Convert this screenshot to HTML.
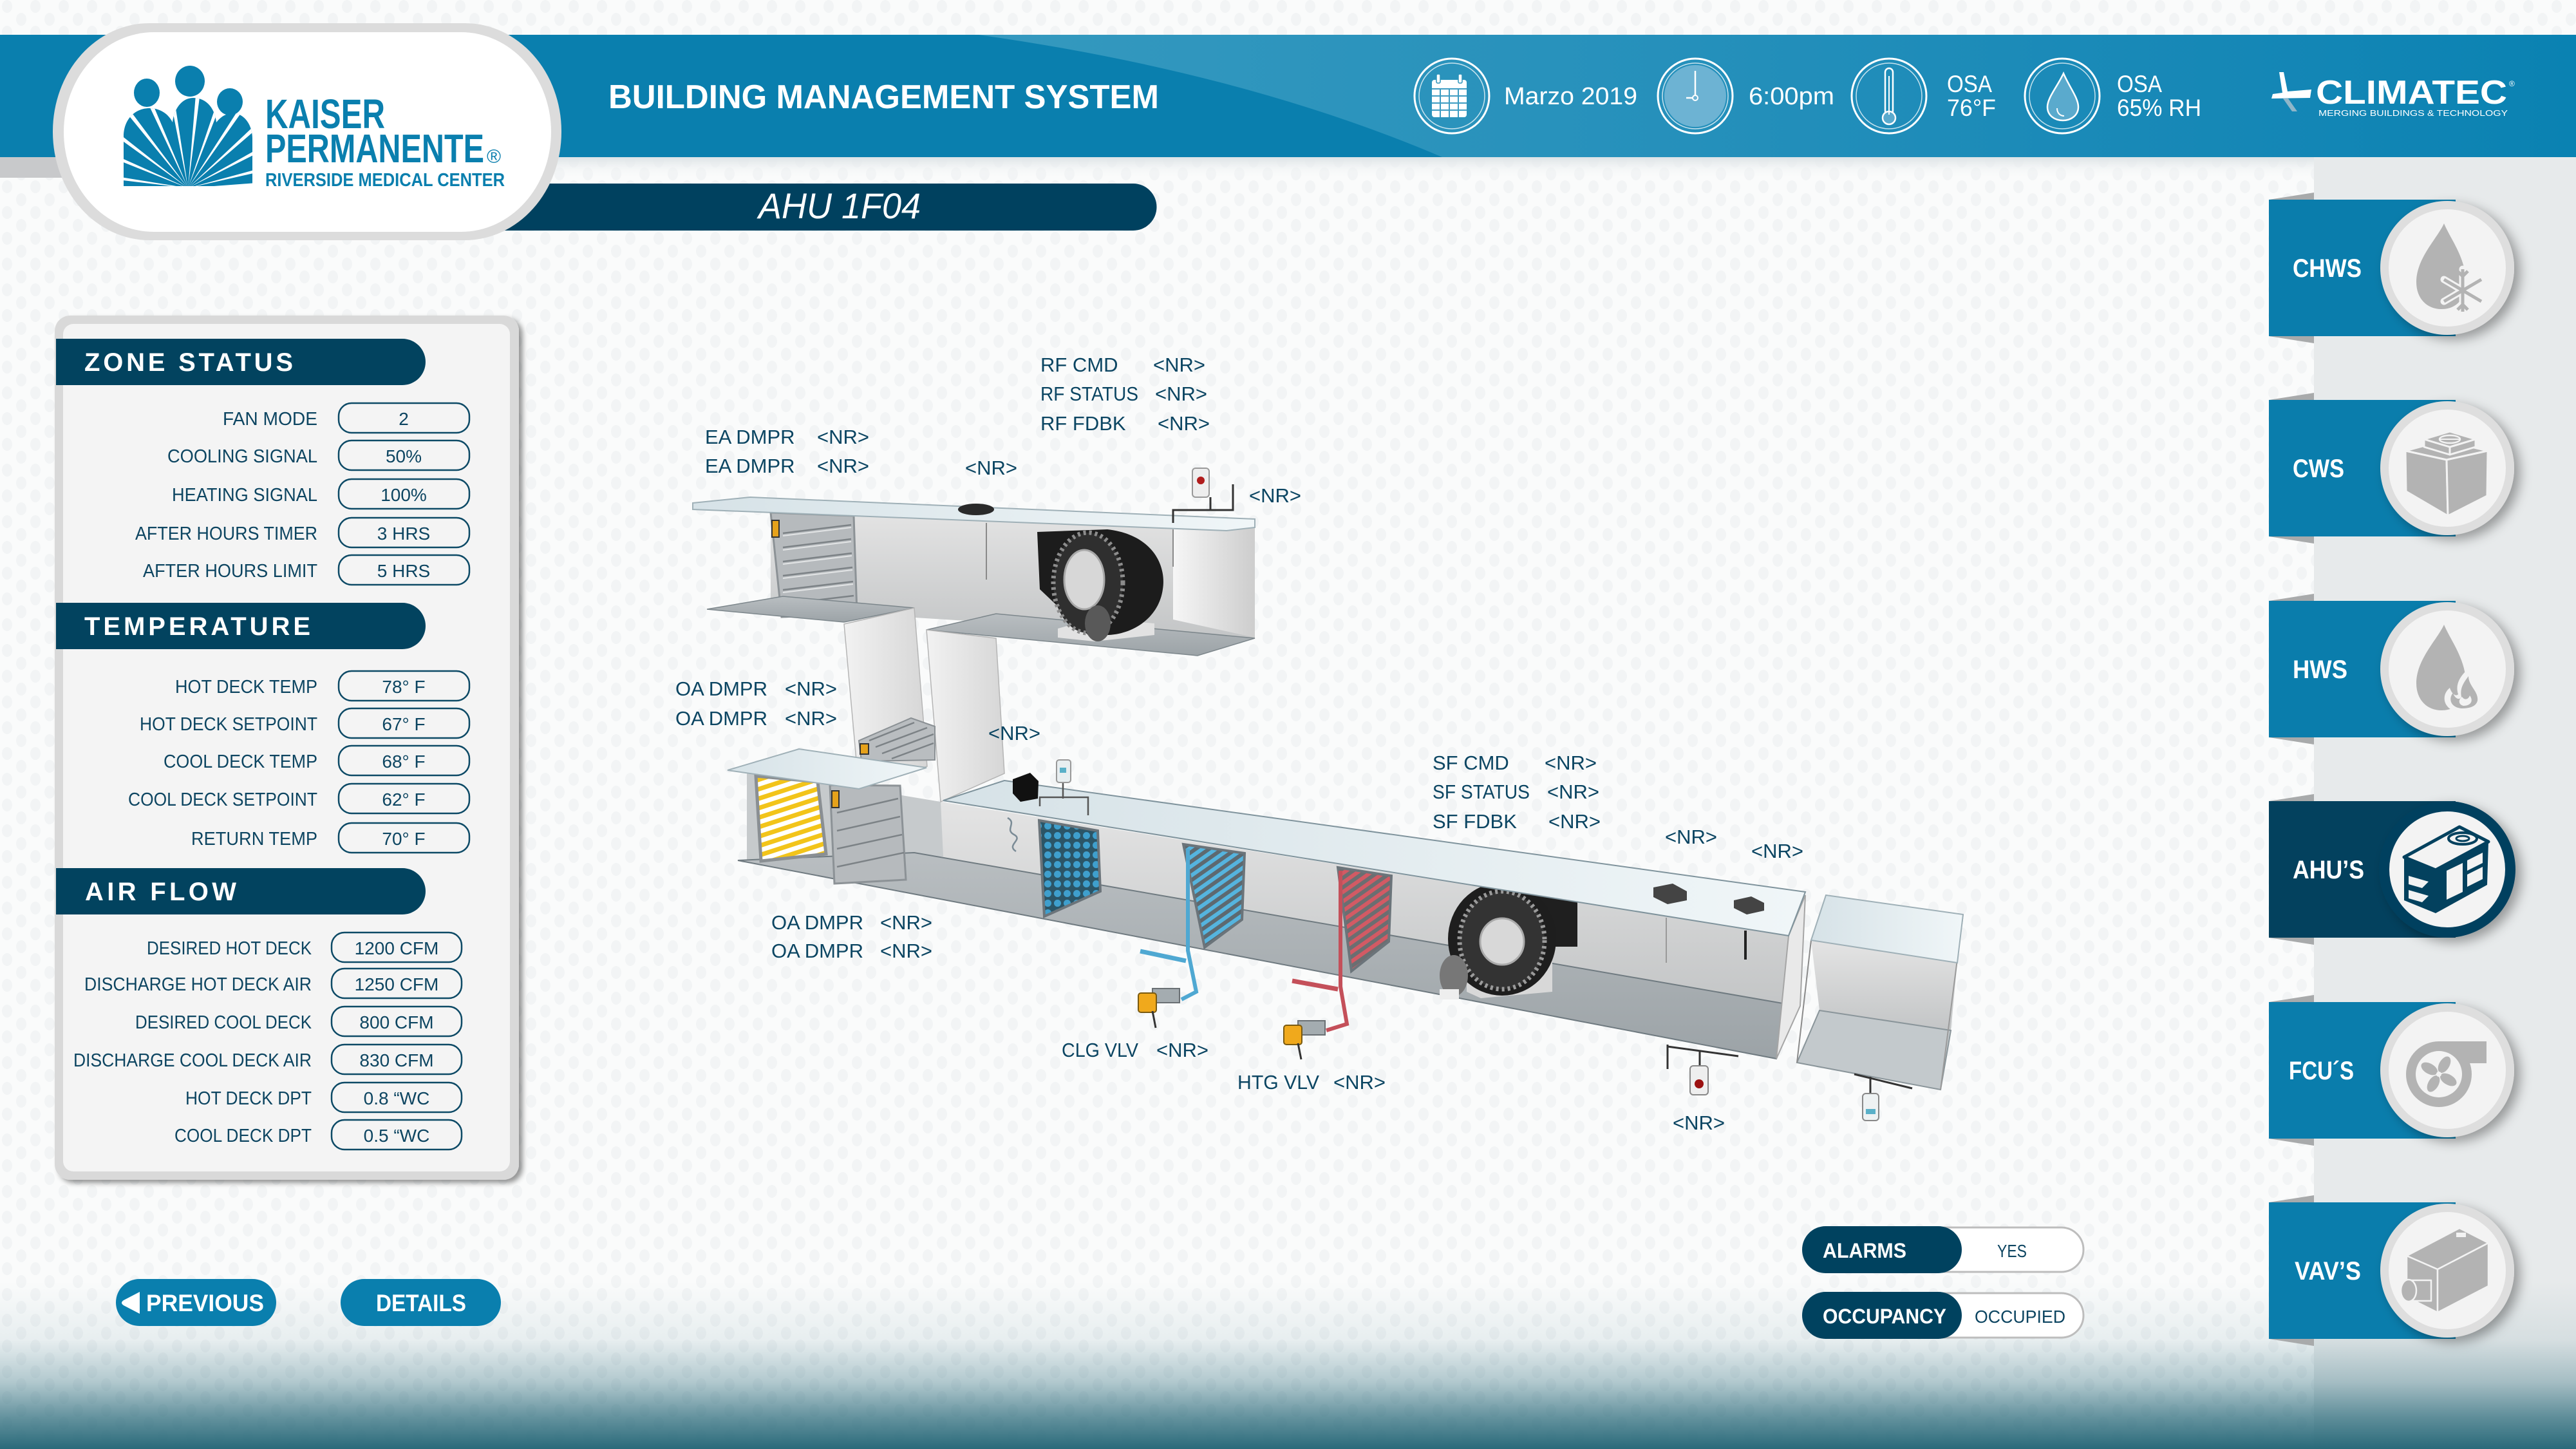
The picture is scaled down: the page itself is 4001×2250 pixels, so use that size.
<!DOCTYPE html>
<html><head><meta charset="utf-8">
<style>
html,body{margin:0;padding:0;background:#fafbfb;width:4001px;height:2250px;overflow:hidden;}
svg{display:block;}
text{font-family:"Liberation Sans",Arial,sans-serif;}
</style></head><body>
<svg width="4001" height="2250" viewBox="0 0 4001 2250" xmlns="http://www.w3.org/2000/svg">
<defs>
 <linearGradient id="btm" x1="0" y1="1990" x2="0" y2="2250" gradientUnits="userSpaceOnUse">
  <stop offset="0" stop-color="#2a6a7a" stop-opacity="0"/>
  <stop offset="0.35" stop-color="#2a6a7a" stop-opacity="0.09"/>
  <stop offset="0.6" stop-color="#2a6a7a" stop-opacity="0.35"/>
  <stop offset="0.81" stop-color="#2a6a7a" stop-opacity="0.72"/>
  <stop offset="1" stop-color="#2a6a7a" stop-opacity="1"/>
 </linearGradient>
 <linearGradient id="bandL" x1="1500" y1="0" x2="4001" y2="0" gradientUnits="userSpaceOnUse">
  <stop offset="0" stop-color="#3599bf"/>
  <stop offset="0.45" stop-color="#2590bb"/>
  <stop offset="0.8" stop-color="#1587b6"/>
  <stop offset="1" stop-color="#0a82b2"/>
 </linearGradient>
 <linearGradient id="under" x1="0" y1="0" x2="0" y2="1">
  <stop offset="0" stop-color="#dde3e6"/>
  <stop offset="1" stop-color="#fafbfb" stop-opacity="0"/>
 </linearGradient>
 <linearGradient id="wall" x1="0" y1="0" x2="0" y2="1">
  <stop offset="0" stop-color="#e4e4e4"/>
  <stop offset="1" stop-color="#c3c5c6"/>
 </linearGradient>
 <linearGradient id="wallH" x1="0" y1="0" x2="1" y2="0">
  <stop offset="0" stop-color="#f6f6f6"/>
  <stop offset="1" stop-color="#cdcdcd"/>
 </linearGradient>
 <linearGradient id="wallH2" x1="0" y1="0" x2="1" y2="0">
  <stop offset="0" stop-color="#f2f2f2"/>
  <stop offset="1" stop-color="#d6d6d6"/>
 </linearGradient>
 <linearGradient id="floor" x1="0" y1="0" x2="0" y2="1">
  <stop offset="0" stop-color="#b9bec1"/>
  <stop offset="1" stop-color="#9ca3a7"/>
 </linearGradient>
 <linearGradient id="lid" x1="0" y1="0" x2="1" y2="0">
  <stop offset="0" stop-color="#d6e2e7"/>
  <stop offset="1" stop-color="#f0f6f8"/>
 </linearGradient>
 <pattern id="dots" width="44" height="40" patternUnits="userSpaceOnUse">
  <ellipse cx="11" cy="10" rx="8" ry="10" fill="#eef1f2"/>
  <ellipse cx="33" cy="30" rx="8" ry="10" fill="#eef1f2"/>
 </pattern>
 <pattern id="yel" width="14" height="14" patternUnits="userSpaceOnUse" patternTransform="rotate(-18)">
  <rect width="14" height="14" fill="#ffffff"/><rect width="14" height="7" fill="#f2c41a"/>
 </pattern>
 <pattern id="filt" width="15" height="15" patternUnits="userSpaceOnUse">
  <rect width="15" height="15" fill="#2b5567"/><circle cx="7.5" cy="7.5" r="5.5" fill="#3f9fcd"/>
 </pattern>
 <pattern id="cool" width="12" height="12" patternUnits="userSpaceOnUse" patternTransform="rotate(-35)">
  <rect width="12" height="12" fill="#5d6970"/><rect width="12" height="6" fill="#55b4de"/>
 </pattern>
 <pattern id="heat" width="12" height="12" patternUnits="userSpaceOnUse" patternTransform="rotate(-35)">
  <rect width="12" height="12" fill="#6b6e71"/><rect width="12" height="6" fill="#d25a64"/>
 </pattern>
 <clipPath id="bodyClip">
  <path d="M192,289 L192,212 C192,185 210,168 232,168 C250,168 262,178 268,190 C270,170 282,152 300,152 C322,152 334,170 336,190 C344,180 352,176 362,176 C380,176 392,195 392,215 L392,289 Z"/>
 </clipPath>
 <filter id="sh" x="-30%" y="-30%" width="170%" height="170%">
  <feDropShadow dx="9" dy="7" stdDeviation="9" flood-color="#000" flood-opacity="0.35"/>
 </filter>
 <filter id="shp" x="-10%" y="-10%" width="120%" height="120%">
  <feDropShadow dx="6" dy="5" stdDeviation="4" flood-color="#000" flood-opacity="0.4"/>
 </filter>
</defs>

<!-- background -->
<rect x="0" y="0" width="4001" height="2250" fill="#fafbfb"/>
<rect x="0" y="0" width="4001" height="2250" fill="url(#dots)" opacity="0.7"/>
<rect x="0" y="244" width="3594" height="34" fill="url(#under)"/>
<rect x="0" y="244" width="100" height="32" fill="#c8c9cb"/>
<rect x="3594" y="244" width="407" height="2006" fill="#e7eaeb"/>
<rect x="0" y="1990" width="4001" height="260" fill="url(#btm)"/>

<!-- header band -->
<rect x="0" y="54" width="4001" height="190" fill="#0a7fae"/>
<path d="M1520,54 Q1930,112 2240,244 L4001,244 L4001,54 Z" fill="url(#bandL)"/>

<text x="945" y="168" font-size="52" font-weight="bold" fill="#ffffff" textLength="855" lengthAdjust="spacingAndGlyphs">BUILDING MANAGEMENT SYSTEM</text>

<!-- header icons -->
<g fill="none" stroke="#ffffff">
 <circle cx="2255" cy="149" r="58" stroke-width="3"/>
 <circle cx="2255" cy="149" r="51" stroke-width="1.5" stroke-opacity="0.75"/>
 <circle cx="2633" cy="149" r="58" stroke-width="3"/>
 <circle cx="2633" cy="149" r="51" stroke-width="1.5" stroke-opacity="0.75"/>
 <circle cx="2934" cy="149" r="58" stroke-width="3"/>
 <circle cx="2934" cy="149" r="51" stroke-width="1.5" stroke-opacity="0.75"/>
 <circle cx="3203" cy="149" r="58" stroke-width="3"/>
 <circle cx="3203" cy="149" r="51" stroke-width="1.5" stroke-opacity="0.75"/>
</g>
<circle cx="2633" cy="149" r="48" fill="#6db3d3"/>
<line x1="2633" y1="110" x2="2633" y2="148" stroke="#fff" stroke-width="2.5"/>
<circle cx="2633" cy="152" r="4" fill="none" stroke="#fff" stroke-width="2"/>
<line x1="2619" y1="152" x2="2629" y2="152" stroke="#fff" stroke-width="2.5"/>
<!-- calendar -->
<rect x="2224" y="124" width="54" height="58" rx="4" fill="#ffffff"/>
<rect x="2231" y="115" width="6" height="14" rx="2" fill="#ffffff" stroke="#2d93ba" stroke-width="1.5"/>
<rect x="2265" y="115" width="6" height="14" rx="2" fill="#ffffff" stroke="#2d93ba" stroke-width="1.5"/>
<g stroke="#3d9cc2" stroke-width="2">
 <line x1="2224" y1="138" x2="2278" y2="138"/><line x1="2224" y1="149" x2="2278" y2="149"/>
 <line x1="2224" y1="160" x2="2278" y2="160"/><line x1="2224" y1="171" x2="2278" y2="171"/>
 <line x1="2237" y1="138" x2="2237" y2="182"/><line x1="2251" y1="138" x2="2251" y2="182"/>
 <line x1="2265" y1="138" x2="2265" y2="182"/>
</g>
<!-- thermometer -->
<rect x="2928" y="106" width="12" height="72" rx="6" fill="none" stroke="#fff" stroke-width="2.5"/>
<circle cx="2934" cy="183" r="10" fill="#5aaacd" stroke="#fff" stroke-width="2.5"/>
<line x1="2934" y1="118" x2="2934" y2="178" stroke="#fff" stroke-width="2"/>
<!-- droplet -->
<path d="M3205,114 C3195,135 3180,152 3180,166 C3180,180 3192,187 3204,187 C3217,187 3228,179 3228,166 C3228,152 3214,135 3205,114 Z" fill="#5aaacd" stroke="#fff" stroke-width="2.5"/>
<path d="M3195,168 C3195,176 3200,180 3206,180" fill="none" stroke="#fff" stroke-width="2"/>

<g fill="#ffffff" font-size="38">
 <text x="2336" y="162" textLength="207" lengthAdjust="spacingAndGlyphs">Marzo 2019</text>
 <text x="2716" y="162" textLength="133" lengthAdjust="spacingAndGlyphs">6:00pm</text>
 <text x="3024" y="143" font-size="37" textLength="70" lengthAdjust="spacingAndGlyphs">OSA</text>
 <text x="3024" y="180" font-size="37" textLength="76" lengthAdjust="spacingAndGlyphs">76°F</text>
 <text x="3288" y="143" font-size="37" textLength="70" lengthAdjust="spacingAndGlyphs">OSA</text>
 <text x="3288" y="180" font-size="37" textLength="131" lengthAdjust="spacingAndGlyphs">65% RH</text>
</g>
<!-- climatec -->
<polygon points="3540,112 3547,112 3553,142 3590,139 3588,152 3528,153 3530,146 3545,144" fill="#ffffff"/>
<polygon points="3546,153 3554,153 3568,173 3560,173" fill="#8fb6c9"/>
<text x="3597" y="161" font-size="52" font-weight="bold" fill="#ffffff" textLength="297" lengthAdjust="spacingAndGlyphs">CLIMATEC</text>
<text x="3897" y="134" font-size="12" fill="#ffffff">®</text>
<text x="3601" y="180" font-size="13" fill="#ffffff" textLength="294" lengthAdjust="spacingAndGlyphs">MERGING BUILDINGS &amp; TECHNOLOGY</text>

<!-- AHU bar -->
<path d="M700,285 H1760 A36.5,36.5 0 0 1 1760,358 H700 Z" fill="#00415f"/>
<text x="1304" y="339" font-size="56" font-style="italic" fill="#ffffff" text-anchor="middle" textLength="252" lengthAdjust="spacingAndGlyphs">AHU 1F04</text>

<!-- logo -->
<rect x="82" y="36" width="790" height="337" rx="150" ry="168" fill="#dcdcdc"/>
<rect x="99" y="50" width="757" height="310" rx="140" ry="155" fill="#ffffff"/>
<g fill="#0a7fae">
 <ellipse cx="228" cy="144" rx="20" ry="22"/>
 <ellipse cx="295" cy="126" rx="23" ry="24"/>
 <ellipse cx="357" cy="158" rx="20" ry="21"/>
 <path d="M192,289 L192,212 C192,185 210,168 232,168 C250,168 262,178 268,190 C270,170 282,152 300,152 C322,152 334,170 336,190 C344,180 352,176 362,176 C380,176 392,195 392,215 L392,289 Z"/>
</g>
<g fill="#ffffff" clip-path="url(#bodyClip)">
 <polygon points="292,292 520,287 520,297" transform="rotate(-172 292 292)"/>
 <polygon points="292,292 520,287 520,297" transform="rotate(-157 292 292)"/>
 <polygon points="292,292 520,287 520,297" transform="rotate(-143 292 292)"/>
 <polygon points="292,292 520,287 520,297" transform="rotate(-128 292 292)"/>
 <polygon points="292,292 520,287 520,297" transform="rotate(-114 292 292)"/>
 <polygon points="292,292 520,287 520,297" transform="rotate(-100 292 292)"/>
 <polygon points="292,292 520,287 520,297" transform="rotate(-84 292 292)"/>
 <polygon points="292,292 520,287 520,297" transform="rotate(-70 292 292)"/>
 <polygon points="292,292 520,287 520,297" transform="rotate(-56 292 292)"/>
 <polygon points="292,292 520,287 520,297" transform="rotate(-42 292 292)"/>
 <polygon points="292,292 520,287 520,297" transform="rotate(-28 292 292)"/>
 <polygon points="292,292 520,287 520,297" transform="rotate(-14 292 292)"/>
 <polygon points="292,292 520,287 520,297" transform="rotate(-3 292 292)"/>
</g>
<g fill="#0a7fae" font-weight="bold">
 <text x="412" y="199" font-size="64" textLength="186" lengthAdjust="spacingAndGlyphs">KAISER</text>
 <text x="412" y="252" font-size="62" textLength="340" lengthAdjust="spacingAndGlyphs">PERMANENTE</text>
 <text x="756" y="253" font-size="30" font-weight="normal">®</text>
 <text x="412" y="289" font-size="29" textLength="372" lengthAdjust="spacingAndGlyphs">RIVERSIDE MEDICAL CENTER</text>
</g>

<!-- left panel -->
<rect x="85" y="490" width="721" height="1342" rx="24" fill="#d9d9d9" filter="url(#shp)"/>
<rect x="98" y="503" width="694" height="1316" rx="16" fill="#f4f4f4"/>
<g fill="#02435f">
 <path d="M87,526 H625 A36,36 0 0 1 625,598 H87 Z"/>
 <path d="M87,936 H625 A36,36 0 0 1 625,1008 H87 Z"/>
 <path d="M87,1348 H625 A36,36 0 0 1 625,1420 H87 Z"/>
</g>
<g fill="#ffffff" font-size="40" font-weight="bold">
 <text x="131" y="576" textLength="324" lengthAdjust="spacing">ZONE STATUS</text>
 <text x="131" y="986" textLength="351" lengthAdjust="spacing">TEMPERATURE</text>
 <text x="132" y="1398" textLength="235" lengthAdjust="spacing">AIR FLOW</text>
</g>
<g fill="#f4f4f4" stroke="#0d4a66" stroke-width="2.5">
 <rect x="526" y="626" width="203" height="46" rx="20"/>
 <rect x="526" y="684" width="203" height="46" rx="20"/>
 <rect x="526" y="744" width="203" height="46" rx="20"/>
 <rect x="526" y="804" width="203" height="46" rx="20"/>
 <rect x="526" y="862" width="203" height="46" rx="20"/>
 <rect x="526" y="1042" width="203" height="46" rx="20"/>
 <rect x="526" y="1100" width="203" height="46" rx="20"/>
 <rect x="526" y="1158" width="203" height="46" rx="20"/>
 <rect x="526" y="1217" width="203" height="46" rx="20"/>
 <rect x="526" y="1278" width="203" height="46" rx="20"/>
 <rect x="515" y="1448" width="202" height="46" rx="20"/>
 <rect x="515" y="1504" width="202" height="46" rx="20"/>
 <rect x="515" y="1563" width="202" height="46" rx="20"/>
 <rect x="515" y="1622" width="202" height="46" rx="20"/>
 <rect x="515" y="1681" width="202" height="46" rx="20"/>
 <rect x="515" y="1739" width="202" height="46" rx="20"/>
</g>
<g fill="#0d4561" font-size="29" text-anchor="end">
 <text x="493" y="660" textLength="147" lengthAdjust="spacingAndGlyphs">FAN MODE</text>
 <text x="493" y="718" textLength="233" lengthAdjust="spacingAndGlyphs">COOLING SIGNAL</text>
 <text x="493" y="778" textLength="226" lengthAdjust="spacingAndGlyphs">HEATING SIGNAL</text>
 <text x="493" y="838" textLength="283" lengthAdjust="spacingAndGlyphs">AFTER HOURS TIMER</text>
 <text x="493" y="896" textLength="271" lengthAdjust="spacingAndGlyphs">AFTER HOURS LIMIT</text>
 <text x="493" y="1076" textLength="221" lengthAdjust="spacingAndGlyphs">HOT DECK TEMP</text>
 <text x="493" y="1134" textLength="276" lengthAdjust="spacingAndGlyphs">HOT DECK SETPOINT</text>
 <text x="493" y="1192" textLength="239" lengthAdjust="spacingAndGlyphs">COOL DECK TEMP</text>
 <text x="493" y="1251" textLength="294" lengthAdjust="spacingAndGlyphs">COOL DECK SETPOINT</text>
 <text x="493" y="1312" textLength="196" lengthAdjust="spacingAndGlyphs">RETURN TEMP</text>
 <text x="484" y="1482" textLength="256" lengthAdjust="spacingAndGlyphs">DESIRED HOT DECK</text>
 <text x="484" y="1538" textLength="353" lengthAdjust="spacingAndGlyphs">DISCHARGE HOT DECK AIR</text>
 <text x="484" y="1597" textLength="274" lengthAdjust="spacingAndGlyphs">DESIRED COOL DECK</text>
 <text x="484" y="1656" textLength="370" lengthAdjust="spacingAndGlyphs">DISCHARGE COOL DECK AIR</text>
 <text x="484" y="1715" textLength="196" lengthAdjust="spacingAndGlyphs">HOT DECK DPT</text>
 <text x="484" y="1773" textLength="213" lengthAdjust="spacingAndGlyphs">COOL DECK DPT</text>
</g>
<g fill="#0d4561" font-size="28" text-anchor="middle">
 <text x="627" y="660">2</text>
 <text x="627" y="718">50%</text>
 <text x="627" y="778">100%</text>
 <text x="627" y="838">3 HRS</text>
 <text x="627" y="896">5 HRS</text>
 <text x="627" y="1076">78° F</text>
 <text x="627" y="1134">67° F</text>
 <text x="627" y="1192">68° F</text>
 <text x="627" y="1251">62° F</text>
 <text x="627" y="1312">70° F</text>
 <text x="616" y="1482">1200 CFM</text>
 <text x="616" y="1538">1250 CFM</text>
 <text x="616" y="1597">800 CFM</text>
 <text x="616" y="1656">830 CFM</text>
 <text x="616" y="1715">0.8 “WC</text>
 <text x="616" y="1773">0.5 “WC</text>
</g>

<!-- buttons -->
<rect x="180" y="1986" width="249" height="73" rx="36.5" fill="#0a7fae"/>
<path d="M217,2006 L217,2040 L192,2027 Q186,2023 192,2019 Z" fill="#ffffff"/>
<text x="227" y="2036" font-size="37" font-weight="bold" fill="#ffffff" textLength="183" lengthAdjust="spacingAndGlyphs">PREVIOUS</text>
<rect x="529" y="1986" width="249" height="73" rx="36.5" fill="#0a7fae"/>
<text x="584" y="2036" font-size="37" font-weight="bold" fill="#ffffff" textLength="140" lengthAdjust="spacingAndGlyphs">DETAILS</text>

<!-- toggles -->
<rect x="2960" y="1906" width="276" height="69" rx="34.5" fill="#ffffff" stroke="#bdbdbd" stroke-width="3"/>
<rect x="2799" y="1904" width="248" height="73" rx="36.5" fill="#00425f"/>
<text x="2831" y="1953" font-size="32" font-weight="bold" fill="#ffffff" textLength="130" lengthAdjust="spacingAndGlyphs">ALARMS</text>
<text x="3125" y="1952" font-size="28" fill="#0d4561" text-anchor="middle" textLength="46" lengthAdjust="spacingAndGlyphs">YES</text>
<rect x="2960" y="2008" width="276" height="69" rx="34.5" fill="#ffffff" stroke="#bdbdbd" stroke-width="3"/>
<rect x="2799" y="2006" width="248" height="73" rx="36.5" fill="#00425f"/>
<text x="2831" y="2055" font-size="32" font-weight="bold" fill="#ffffff" textLength="192" lengthAdjust="spacingAndGlyphs">OCCUPANCY</text>
<text x="3067" y="2054" font-size="28" fill="#0d4561" textLength="141" lengthAdjust="spacingAndGlyphs">OCCUPIED</text>

<!-- right nav -->
<g fill="#a8aaab">
 <polygon points="3524,310 3594,299 3594,310"/><polygon points="3524,522 3594,533 3594,522"/>
 <polygon points="3524,621 3594,610 3594,621"/><polygon points="3524,833 3594,844 3594,833"/>
 <polygon points="3524,933 3594,922 3594,933"/><polygon points="3524,1145 3594,1156 3594,1145"/>
 <polygon points="3524,1244 3594,1233 3594,1244"/><polygon points="3524,1456 3594,1467 3594,1456"/>
 <polygon points="3524,1556 3594,1545 3594,1556"/><polygon points="3524,1768 3594,1779 3594,1768"/>
 <polygon points="3524,1867 3594,1856 3594,1867"/><polygon points="3524,2079 3594,2090 3594,2079"/>
</g>
<rect x="3524" y="310" width="290" height="212" fill="#0a7dac"/>
<rect x="3524" y="621" width="290" height="212" fill="#0a7dac"/>
<rect x="3524" y="933" width="290" height="212" fill="#0a7dac"/>
<rect x="3524" y="1244" width="290" height="212" fill="#03415e"/>
<rect x="3524" y="1556" width="290" height="212" fill="#0a7dac"/>
<rect x="3524" y="1867" width="290" height="212" fill="#0a7dac"/>
<g filter="url(#sh)">
 <circle cx="3801" cy="416" r="104" fill="#dedede"/>
 <circle cx="3801" cy="727" r="104" fill="#dedede"/>
 <circle cx="3801" cy="1039" r="104" fill="#dedede"/>
 <circle cx="3801" cy="1350" r="106" fill="#03415e"/>
 <circle cx="3801" cy="1662" r="104" fill="#dedede"/>
 <circle cx="3801" cy="1973" r="104" fill="#dedede"/>
</g>
<g fill="#f3f3f3">
 <circle cx="3801" cy="416" r="91"/>
 <circle cx="3801" cy="727" r="91"/>
 <circle cx="3801" cy="1039" r="91"/>
 <circle cx="3801" cy="1350" r="90"/>
 <circle cx="3801" cy="1662" r="91"/>
 <circle cx="3801" cy="1973" r="91"/>
</g>
<g fill="#ffffff" font-size="40" font-weight="bold">
 <text x="3561" y="430" textLength="107" lengthAdjust="spacingAndGlyphs">CHWS</text>
 <text x="3561" y="741" textLength="80" lengthAdjust="spacingAndGlyphs">CWS</text>
 <text x="3561" y="1053" textLength="85" lengthAdjust="spacingAndGlyphs">HWS</text>
 <text x="3561" y="1364" textLength="111" lengthAdjust="spacingAndGlyphs">AHU’S</text>
 <text x="3555" y="1676" textLength="101" lengthAdjust="spacingAndGlyphs">FCU´S</text>
 <text x="3564" y="1987" textLength="103" lengthAdjust="spacingAndGlyphs">VAV’S</text>
</g>
<!-- CHWS icon -->
<path d="M3796,347 C3785,371 3753,401 3753,438 C3753,464 3770,480 3792,480 C3815,480 3830,464 3830,438 C3830,401 3806,371 3796,347 Z" fill="#b3b3b3"/>
<g stroke="#f3f3f3" stroke-width="11" stroke-linecap="round">
 <line x1="3825" y1="418" x2="3825" y2="484"/><line x1="3796" y1="434" x2="3854" y2="468"/><line x1="3796" y1="468" x2="3854" y2="434"/>
</g>
<g stroke="#b3b3b3" stroke-width="5">
 <line x1="3825" y1="418" x2="3825" y2="484"/><line x1="3796" y1="434" x2="3854" y2="468"/><line x1="3796" y1="468" x2="3854" y2="434"/>
 <polyline points="3817,421 3825,429 3833,421" fill="none"/><polyline points="3817,481 3825,473 3833,481" fill="none"/>
</g>
<!-- CWS icon -->
<g fill="#b3b3b3" stroke="#f3f3f3" stroke-width="3" stroke-linejoin="round">
 <polygon points="3736,700 3795,684 3864,700 3800,714"/>
 <polygon points="3736,700 3800,714 3802,801 3737,763"/>
 <polygon points="3800,714 3864,700 3863,770 3802,801"/>
 <polygon points="3765,682 3805,694 3805,706 3765,694"/>
 <polygon points="3805,694 3845,682 3845,694 3805,706"/>
 <polygon points="3765,682 3805,670 3845,682 3805,694"/>
</g>
<ellipse cx="3805" cy="682" rx="16" ry="6" fill="none" stroke="#f3f3f3" stroke-width="2.5"/>
<line x1="3790" y1="682" x2="3820" y2="682" stroke="#f3f3f3" stroke-width="2"/>
<!-- HWS icon -->
<path d="M3796,970 C3785,994 3753,1024 3753,1061 C3753,1087 3770,1103 3792,1103 C3815,1103 3830,1087 3830,1061 C3830,1024 3806,994 3796,970 Z" fill="#b3b3b3"/>
<path d="M3822,1106 C3795,1104 3790,1080 3805,1068 C3808,1078 3815,1082 3818,1078 C3812,1060 3825,1045 3838,1035 C3836,1055 3860,1070 3856,1090 C3853,1100 3840,1106 3822,1106 Z" fill="#f3f3f3"/>
<path d="M3823,1100 C3805,1098 3803,1084 3810,1076 C3813,1085 3820,1088 3823,1082 C3820,1068 3828,1058 3834,1050 C3834,1065 3850,1074 3848,1088 C3846,1096 3838,1100 3823,1100 Z" fill="#b3b3b3"/>
<path d="M3826,1096 C3818,1094 3818,1086 3824,1082 C3828,1088 3834,1086 3836,1080 C3842,1088 3838,1096 3826,1096 Z" fill="#f3f3f3"/>
<!-- AHU icon -->
<polygon points="3734,1331 3820,1284 3865,1307 3783,1351" fill="#f3f3f3" stroke="#03415e" stroke-width="5" stroke-linejoin="round"/>
<ellipse cx="3825" cy="1302" rx="22" ry="9" fill="none" stroke="#03415e" stroke-width="4"/>
<ellipse cx="3825" cy="1302" rx="10" ry="4" fill="none" stroke="#03415e" stroke-width="3"/>
<polygon points="3734,1331 3783,1351 3783,1418 3734,1398" fill="#03415e"/>
<polygon points="3783,1351 3865,1307 3863,1374 3783,1418" fill="#03415e"/>
<g fill="#f3f3f3">
 <polygon points="3741,1360 3772,1369 3762,1379 3741,1373"/>
 <polygon points="3741,1382 3772,1391 3762,1401 3741,1395"/>
 <polygon points="3800,1352 3825,1340 3825,1385 3800,1397"/>
 <polygon points="3832,1336 3856,1324 3856,1340 3832,1352"/>
 <polygon points="3832,1358 3856,1346 3856,1365 3832,1377"/>
</g>
<!-- FCU icon -->
<circle cx="3788" cy="1668" r="51" fill="#b3b3b3"/>
<rect x="3788" y="1617" width="74" height="34" fill="#b3b3b3"/>
<circle cx="3788" cy="1668" r="36" fill="#f3f3f3"/>
<g fill="#b3b3b3">
 <ellipse cx="3788" cy="1651" rx="8" ry="14" transform="rotate(30 3788 1668)"/>
 <ellipse cx="3788" cy="1651" rx="8" ry="14" transform="rotate(120 3788 1668)"/>
 <ellipse cx="3788" cy="1651" rx="8" ry="14" transform="rotate(210 3788 1668)"/>
 <ellipse cx="3788" cy="1651" rx="8" ry="14" transform="rotate(300 3788 1668)"/>
</g>
<circle cx="3788" cy="1668" r="4" fill="#f3f3f3"/>
<!-- VAV icon -->
<g fill="#b3b3b3" stroke="#f3f3f3" stroke-width="2.5" stroke-linejoin="round">
 <polygon points="3738,1950 3820,1907 3865,1930 3786,1971"/>
 <polygon points="3738,1950 3786,1971 3786,2038 3738,2014"/>
 <polygon points="3786,1971 3865,1930 3865,1997 3786,2038"/>
 <rect x="3740" y="1988" width="36" height="32"/>
 <ellipse cx="3741" cy="2004" rx="12" ry="17"/>
</g>
<rect x="3815" y="1914" width="15" height="7" fill="#f3f3f3"/>

<!-- ============ DIAGRAM ============ -->
<!-- upper section -->
<polygon points="1197,792 1949,812 1949,992 1197,945" fill="url(#wall)"/>
<polygon points="1822,818 1949,810 1949,990 1822,962" fill="url(#wallH)"/>
<polygon points="1197,796 1326,801 1331,952 1214,958" fill="#b6babd" stroke="#8c9296" stroke-width="3"/>
<g stroke="#7c8286" stroke-width="2.5">
 <line x1="1216" y1="828" x2="1322" y2="815"/><line x1="1216" y1="850" x2="1322" y2="837"/>
 <line x1="1216" y1="872" x2="1323" y2="859"/><line x1="1216" y1="894" x2="1324" y2="881"/>
 <line x1="1216" y1="916" x2="1325" y2="903"/><line x1="1216" y1="938" x2="1326" y2="925"/>
</g>
<g stroke="#e2e4e5" stroke-width="2">
 <line x1="1216" y1="832" x2="1322" y2="819"/><line x1="1216" y1="854" x2="1322" y2="841"/>
 <line x1="1216" y1="876" x2="1323" y2="863"/><line x1="1216" y1="898" x2="1324" y2="885"/>
 <line x1="1216" y1="920" x2="1325" y2="907"/>
</g>
<rect x="1199" y="808" width="11" height="26" fill="#e6a21b" stroke="#333" stroke-width="2"/>
<polygon points="1098,946 1216,926 1420,944 1311,966" fill="url(#floor)" stroke="#7c868b" stroke-width="1.5"/>
<polygon points="1439,978 1547,953 1949,991 1860,1018" fill="url(#floor)" stroke="#7c868b" stroke-width="1.5"/>
<line x1="1532" y1="812" x2="1532" y2="900" stroke="#8a8a8a" stroke-width="2"/>
<line x1="1822" y1="822" x2="1822" y2="880" stroke="#8a8a8a" stroke-width="2"/>
<!-- return fan -->
<polygon points="1643,976 1700,960 1793,968 1793,986 1700,996 1643,990" fill="#e2e2e2"/>
<path d="M1611,826 L1720,822 C1790,830 1812,878 1806,915 C1800,958 1762,984 1722,986 L1690,986 L1615,915 Z" fill="#1c1c1c"/>
<ellipse cx="1690" cy="905" rx="54" ry="78" fill="#2f2f2f" stroke="#8c8c8c" stroke-width="7" stroke-dasharray="4 5"/>
<ellipse cx="1684" cy="900" rx="31" ry="46" fill="#d7d7d7" stroke="#a8a8a8" stroke-width="3"/>
<ellipse cx="1705" cy="968" rx="20" ry="28" fill="#595959"/>
<polygon points="1076,781 1165,772 1949,806 1949,819 1905,824 1076,791" fill="url(#lid)" stroke="#9fb0b7" stroke-width="2"/>
<ellipse cx="1516" cy="791" rx="28" ry="9" fill="#2a2a2a"/>
<path d="M1822,812 V792 H1915 V752 M1880,792 V772" fill="none" stroke="#333" stroke-width="3"/>
<rect x="1852" y="727" width="26" height="45" rx="5" fill="#eeeeee" stroke="#999" stroke-width="2"/>
<circle cx="1865" cy="746" r="6" fill="#b01c1c"/>

<!-- main duct back wall & floor -->
<polygon points="1461,1245 2778,1453 2792,1563 1415,1326" fill="url(#wall)"/>
<polygon points="1160,1198 1340,1225 1461,1245 1465,1330 1160,1338" fill="#c6cacc"/>
<polygon points="1146,1336 1420,1324 2792,1562 2759,1644" fill="url(#floor)" stroke="#6f7a80" stroke-width="2"/>
<polygon points="2778,1453 2804,1390 2796,1562 2759,1644" fill="#e9e9e9" stroke="#a5a5a5" stroke-width="2"/>

<!-- vertical duct -->
<polygon points="1311,969 1420,944 1440,1190 1334,1225" fill="url(#wallH2)" stroke="#b5b5b5" stroke-width="1.5"/>
<polygon points="1439,978 1547,991 1560,1201 1461,1245" fill="url(#wallH2)" stroke="#b5b5b5" stroke-width="1.5"/>
<polygon points="1334,1150 1415,1115 1452,1128 1452,1180 1338,1182" fill="#b9bdc0" stroke="#8a9094" stroke-width="2"/>
<g stroke="#7c8286" stroke-width="2.5">
 <line x1="1350" y1="1150" x2="1420" y2="1122"/><line x1="1360" y1="1160" x2="1440" y2="1130"/>
 <line x1="1370" y1="1170" x2="1450" y2="1140"/><line x1="1385" y1="1178" x2="1450" y2="1154"/>
</g>
<rect x="1336" y="1155" width="13" height="16" fill="#e6a21b" stroke="#333" stroke-width="2"/>

<!-- OA intake -->
<polygon points="1174,1205 1270,1214 1283,1326 1182,1337" fill="url(#yel)" stroke="#8a8f93" stroke-width="5"/>
<polygon points="1289,1219 1398,1220 1407,1366 1296,1372" fill="#b6babd" stroke="#8c9296" stroke-width="3"/>
<g stroke="#7c8286" stroke-width="2.5">
 <line x1="1300" y1="1262" x2="1395" y2="1240"/><line x1="1300" y1="1290" x2="1398" y2="1268"/>
 <line x1="1300" y1="1318" x2="1401" y2="1296"/><line x1="1300" y1="1346" x2="1404" y2="1324"/>
</g>
<rect x="1292" y="1228" width="11" height="26" fill="#e6a21b" stroke="#333" stroke-width="2"/>
<polygon points="1130,1196 1241,1163 1439,1192 1334,1225" fill="url(#lid)" stroke="#9fb0b7" stroke-width="2"/>

<!-- coils -->
<polygon points="1614,1274 1705,1290 1709,1384 1622,1423" fill="url(#filt)" stroke="#6b747a" stroke-width="4"/>
<polygon points="1838,1311 1933,1325 1929,1428 1871,1471" fill="url(#cool)" stroke="#6b747a" stroke-width="4"/>
<polygon points="2078,1347 2161,1360 2157,1462 2099,1508" fill="url(#heat)" stroke="#6b747a" stroke-width="4"/>
<path d="M1565,1270 C1580,1278 1560,1288 1575,1296 C1590,1304 1562,1312 1578,1322" fill="none" stroke="#7a8b96" stroke-width="2.5"/>

<!-- supply fan -->
<polygon points="2278,1485 2380,1470 2411,1480 2411,1540 2300,1550 2278,1540" fill="#d8d8d8"/>
<rect x="2330" y="1380" width="120" height="90" fill="#1f1f1f"/>
<ellipse cx="2333" cy="1458" rx="84" ry="88" fill="#1e1e1e"/>
<ellipse cx="2333" cy="1460" rx="66" ry="76" fill="#333" stroke="#9a9a9a" stroke-width="7" stroke-dasharray="4 5"/>
<ellipse cx="2333" cy="1462" rx="34" ry="36" fill="#d8d8d8" stroke="#aaa" stroke-width="3"/>
<ellipse cx="2258" cy="1515" rx="22" ry="32" fill="#777"/>
<rect x="2236" y="1536" width="30" height="16" fill="#eee"/>
<line x1="2588" y1="1425" x2="2588" y2="1495" stroke="#999" stroke-width="2"/>
<line x1="2711" y1="1445" x2="2711" y2="1490" stroke="#222" stroke-width="4"/>

<!-- main lid -->
<polygon points="1465,1243 1560,1212 2804,1385 2778,1453" fill="url(#lid)" stroke="#7f939c" stroke-width="2"/>
<polygon points="2568,1378 2598,1372 2620,1384 2620,1398 2590,1404 2568,1393" fill="#444"/>
<polygon points="2693,1398 2720,1392 2740,1402 2740,1414 2713,1420 2693,1410" fill="#444"/>
<polygon points="1573,1210 1600,1200 1613,1213 1612,1240 1585,1245 1573,1232" fill="#111"/>
<path d="M1651,1215 V1240 M1615,1252 V1238 H1690 V1266" fill="none" stroke="#555" stroke-width="2.5"/>
<rect x="1641" y="1180" width="22" height="35" rx="4" fill="#e8eef0" stroke="#999" stroke-width="2"/>
<rect x="1646" y="1192" width="10" height="8" fill="#5ab0c8"/>

<!-- pipes & valves -->
<path d="M1845,1318 V1476 L1858,1540 L1835,1552" fill="none" stroke="#4fa8d2" stroke-width="6"/>
<path d="M1771,1477 L1842,1492" fill="none" stroke="#4fa8d2" stroke-width="7"/>
<path d="M2082,1352 V1532 L2092,1590 L2060,1600" fill="none" stroke="#c4505a" stroke-width="6"/>
<path d="M2007,1523 L2078,1536" fill="none" stroke="#c4505a" stroke-width="7"/>
<rect x="1790" y="1535" width="42" height="22" fill="#a4acb0" stroke="#6a7074" stroke-width="2"/>
<rect x="1768" y="1542" width="28" height="30" rx="4" fill="#f0a91c" stroke="#7a5a10" stroke-width="2"/>
<line x1="1790" y1="1570" x2="1795" y2="1596" stroke="#333" stroke-width="3"/>
<rect x="2016" y="1585" width="42" height="22" fill="#a4acb0" stroke="#6a7074" stroke-width="2"/>
<rect x="1994" y="1592" width="28" height="30" rx="4" fill="#f0a91c" stroke="#7a5a10" stroke-width="2"/>
<line x1="2016" y1="1620" x2="2021" y2="1645" stroke="#333" stroke-width="3"/>

<!-- sensor under duct -->
<path d="M2590,1622 V1660 M2590,1625 L2700,1640 M2640,1632 V1658" fill="none" stroke="#333" stroke-width="3"/>
<rect x="2625" y="1655" width="28" height="45" rx="5" fill="#eeeeee" stroke="#888" stroke-width="2"/>
<circle cx="2639" cy="1683" r="7" fill="#9b1010"/>

<!-- end section -->
<polygon points="2813,1460 3040,1495 3030,1600 2826,1569" fill="url(#wall)"/>
<polygon points="2826,1569 3030,1600 3014,1692 2791,1650" fill="#c3c9cc" stroke="#8a959a" stroke-width="2"/>
<line x1="2813" y1="1460" x2="2791" y2="1650" stroke="#8a8a8a" stroke-width="2"/>
<line x1="3049" y1="1420" x2="3014" y2="1692" stroke="#9a9a9a" stroke-width="2"/>
<polygon points="2836,1390 3049,1420 3040,1495 2813,1460" fill="url(#lid)" stroke="#9fb0b7" stroke-width="2"/>
<path d="M2880,1668 L2970,1690 M2905,1672 V1700" fill="none" stroke="#333" stroke-width="3"/>
<rect x="2893" y="1698" width="25" height="42" rx="5" fill="#eef2f3" stroke="#888" stroke-width="2"/>
<rect x="2898" y="1722" width="15" height="8" fill="#5ab0c8"/>

<!-- diagram labels -->
<g fill="#0b4562" font-size="31">
 <text x="1616" y="577">RF CMD</text><text x="1791" y="577">&lt;NR&gt;</text>
 <text x="1616" y="622" textLength="152" lengthAdjust="spacingAndGlyphs">RF STATUS</text><text x="1794" y="622">&lt;NR&gt;</text>
 <text x="1616" y="668">RF FDBK</text><text x="1798" y="668">&lt;NR&gt;</text>
 <text x="1095" y="689">EA DMPR</text><text x="1269" y="689">&lt;NR&gt;</text>
 <text x="1095" y="734">EA DMPR</text><text x="1269" y="734">&lt;NR&gt;</text>
 <text x="1499" y="737">&lt;NR&gt;</text>
 <text x="1940" y="780">&lt;NR&gt;</text>
 <text x="1049" y="1080">OA DMPR</text><text x="1219" y="1080">&lt;NR&gt;</text>
 <text x="1049" y="1126">OA DMPR</text><text x="1219" y="1126">&lt;NR&gt;</text>
 <text x="1535" y="1149">&lt;NR&gt;</text>
 <text x="1198" y="1443">OA DMPR</text><text x="1367" y="1443">&lt;NR&gt;</text>
 <text x="1198" y="1487">OA DMPR</text><text x="1367" y="1487">&lt;NR&gt;</text>
 <text x="1649" y="1641" textLength="119" lengthAdjust="spacingAndGlyphs">CLG VLV</text><text x="1796" y="1641">&lt;NR&gt;</text>
 <text x="1922" y="1691" textLength="127" lengthAdjust="spacingAndGlyphs">HTG VLV</text><text x="2071" y="1691">&lt;NR&gt;</text>
 <text x="2225" y="1195">SF CMD</text><text x="2399" y="1195">&lt;NR&gt;</text>
 <text x="2225" y="1240" textLength="151" lengthAdjust="spacingAndGlyphs">SF STATUS</text><text x="2403" y="1240">&lt;NR&gt;</text>
 <text x="2225" y="1286">SF FDBK</text><text x="2405" y="1286">&lt;NR&gt;</text>
 <text x="2586" y="1310">&lt;NR&gt;</text>
 <text x="2720" y="1332">&lt;NR&gt;</text>
 <text x="2598" y="1754">&lt;NR&gt;</text>
</g>
</svg>
</body></html>
